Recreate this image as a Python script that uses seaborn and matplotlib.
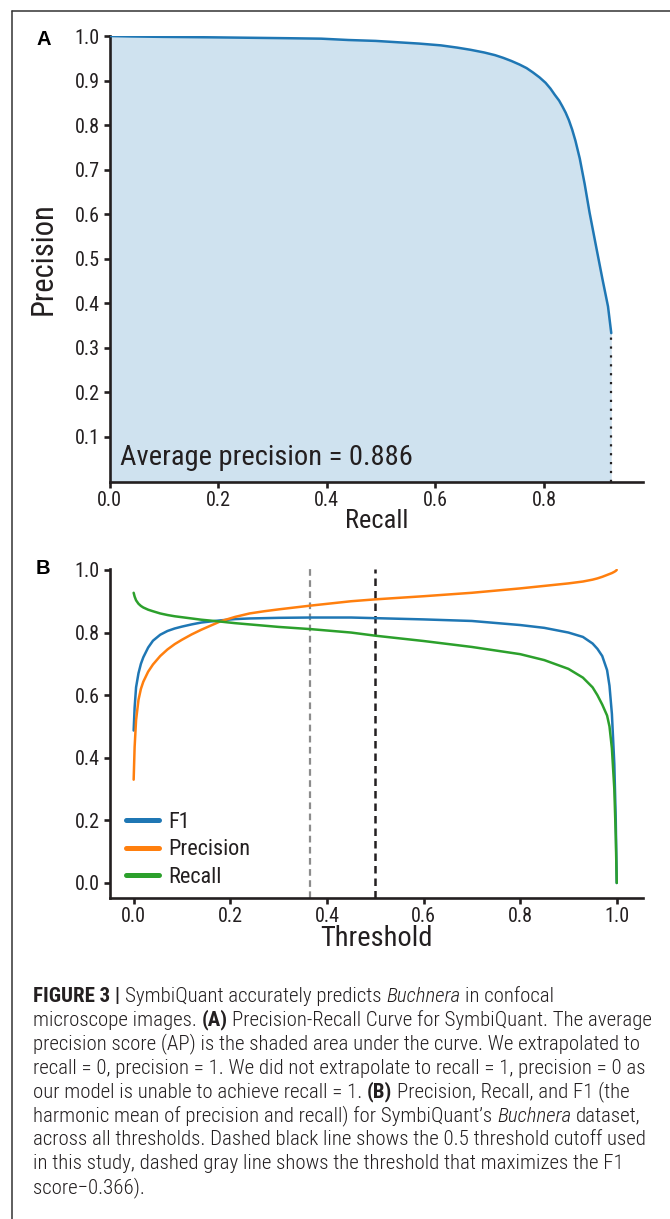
import matplotlib
matplotlib.use('Agg')
import matplotlib.pyplot as plt
from matplotlib import font_manager
from matplotlib.lines import Line2D
import seaborn as sns
import pandas as pd

# --- panel A: precision-recall curve
pr_recall = [0.0, 0.04, 0.10, 0.19, 0.26, 0.33, 0.39, 0.44, 0.49, 0.53, 0.57, 0.61, 0.64,
             0.665, 0.69, 0.71, 0.725, 0.74, 0.755, 0.768, 0.78, 0.792, 0.803, 0.812, 0.82,
             0.828, 0.834, 0.84, 0.846, 0.852, 0.858, 0.866, 0.875, 0.884, 0.896, 0.908,
             0.918, 0.924]
pr_precision = [1.0, 0.999, 0.998, 0.997, 0.996, 0.995, 0.994, 0.991, 0.989, 0.986, 0.983,
                0.979, 0.974, 0.969, 0.963, 0.957, 0.951, 0.944, 0.936, 0.928, 0.918, 0.907,
                0.895, 0.882, 0.868, 0.855, 0.842, 0.828, 0.811, 0.79, 0.765, 0.725, 0.668,
                0.604, 0.528, 0.453, 0.393, 0.333]
avg_precision = 0.886
pr_xticks = [0.0, 0.2, 0.4, 0.6, 0.8]
pr_yticks = [0.1, 0.2, 0.3, 0.4, 0.5, 0.6, 0.7, 0.8, 0.9, 1.0]

# --- panel B: metrics vs threshold
thresholds = [0.0, 0.002, 0.005, 0.01, 0.015, 0.02, 0.03, 0.04, 0.055, 0.07, 0.085, 0.1,
              0.12, 0.14, 0.18, 0.21, 0.24, 0.27, 0.3, 0.366, 0.45, 0.5, 0.6, 0.7, 0.8, 0.85,
              0.9, 0.93, 0.95, 0.96, 0.97, 0.98, 0.985, 0.99, 0.995, 0.998, 1.0]
f1_vals = [0.487, 0.56, 0.625, 0.67, 0.70, 0.721, 0.752, 0.774, 0.793, 0.805, 0.813, 0.819,
           0.826, 0.832, 0.839, 0.843, 0.845, 0.846, 0.847, 0.848, 0.848, 0.846, 0.842, 0.837,
           0.824, 0.815, 0.800, 0.786, 0.765, 0.748, 0.725, 0.68, 0.63, 0.54, 0.38, 0.2, 0.0]
precision_vals = [0.33, 0.434, 0.52, 0.585, 0.62, 0.643, 0.675, 0.698, 0.725, 0.746, 0.763,
                  0.777, 0.794, 0.809, 0.836, 0.850, 0.861, 0.868, 0.874, 0.886, 0.900, 0.906,
                  0.916, 0.927, 0.941, 0.949, 0.957, 0.963, 0.969, 0.973, 0.978, 0.984, 0.987,
                  0.990, 0.994, 0.997, 1.0]
recall_vals = [0.927, 0.915, 0.903, 0.892, 0.885, 0.880, 0.873, 0.868, 0.861, 0.856, 0.852,
               0.849, 0.845, 0.841, 0.835, 0.830, 0.826, 0.822, 0.818, 0.811, 0.800, 0.790,
               0.773, 0.754, 0.731, 0.712, 0.684, 0.656, 0.625, 0.60, 0.57, 0.535, 0.50, 0.43,
               0.30, 0.15, 0.0]
metrics = ['F1', 'Precision', 'Recall']
metric_colors = ['#1f77b4', '#ff7f0e', '#2ca02c']
best_threshold = 0.366
cutoff_threshold = 0.5
thr_ticks = [0.0, 0.2, 0.4, 0.6, 0.8, 1.0]
thr_yticks = [0.0, 0.2, 0.4, 0.6, 0.8, 1.0]

caption_lines = [
    [('FIGURE 3 | ', 'b'), ('SymbiQuant accurately predicts ', 'n'), ('Buchnera', 'i'), (' in confocal', 'n')],
    [('microscope images. ', 'n'), ('(A)', 'b'), (' Precision-Recall Curve for SymbiQuant. The average', 'n')],
    [('precision score (AP) is the shaded area under the curve. We extrapolated to', 'n')],
    [('recall = 0, precision = 1. We did not extrapolate to recall = 1, precision = 0 as', 'n')],
    [('our model is unable to achieve recall = 1. ', 'n'), ('(B)', 'b'), (' Precision, Recall, and F1 (the', 'n')],
    [('harmonic mean of precision and recall) for SymbiQuant\u2019s ', 'n'), ('Buchnera', 'i'), (' dataset,', 'n')],
    [('across all thresholds. Dashed black line shows the 0.5 threshold cutoff used', 'n')],
    [('in this study, dashed gray line shows the threshold that maximizes the F1', 'n')],
    [('score\u22120.366).', 'n')],
]

sns.set_theme(style='ticks')
names = {f.name for f in font_manager.fontManager.ttflist}
narrow = next((n for n in ['Liberation Sans Narrow', 'Roboto Condensed', 'Open Sans Condensed',
                           'Arial Narrow'] if n in names), 'Open Sans')
plt.rcParams['font.family'] = [narrow, 'DejaVu Sans']
plt.rcParams['font.stretch'] = 'condensed'
INK = '#231f20'

W, H = 670, 1219
fig = plt.figure(figsize=(W / 100, H / 100), dpi=100)


def px_axes(left, top, right, bottom):
    return fig.add_axes([left / W, 1 - bottom / H, (right - left) / W, (bottom - top) / H])


def style_axes(ax):
    sns.despine(ax=ax)
    for side in ['left', 'bottom']:
        ax.spines[side].set_linewidth(1.9)
        ax.spines[side].set_color(INK)
    ax.tick_params(length=4, width=1.9, color=INK, labelcolor=INK, labelsize=14.5, pad=3)
    ax.set_facecolor('white')


# ---------------- panel A
axA = px_axes(109.5, 36, 643.3, 481.5)
df_pr = pd.DataFrame({'Recall': pr_recall, 'Precision': pr_precision})
axA.fill_between(df_pr['Recall'], df_pr['Precision'], 0, color='#cfe2ef', lw=0, zorder=1)
sns.lineplot(data=df_pr, x='Recall', y='Precision', ax=axA, color='#1f77b4', lw=1.8,
             sort=False, estimator=None, zorder=3)
axA.vlines(pr_recall[-1], 0, pr_precision[-1], colors=INK, linestyles=(0, (1, 3)), lw=1.6, zorder=2)
axA.set_xlim(0, 0.983)
axA.set_ylim(0, 1.0)
axA.set_xticks(pr_xticks, [f'{v:.1f}' for v in pr_xticks])
axA.set_yticks(pr_yticks, [f'{v:.1f}' for v in pr_yticks])
style_axes(axA)
axA.set_xlabel('Recall', fontsize=19, color=INK, va='center')
axA.set_ylabel('Precision', fontsize=22, color=INK, va='center')
axA.xaxis.set_label_coords(0.5, (481.5 - 521) / 445.5)
axA.yaxis.set_label_coords((43 - 109.5) / 533.8, 0.5)
axA.text(0.02, 0.037, f'Average precision = {avg_precision}', transform=axA.transAxes,
         fontsize=20.5, color=INK, ha='left', va='baseline')

# ---------------- panel B
axB = px_axes(109.5, 569, 643.3, 897.7)
n = len(thresholds)
df_thr = pd.DataFrame({
    'Threshold': thresholds * 3,
    'value': f1_vals + precision_vals + recall_vals,
    'metric': [m for m in metrics for _ in range(n)],
})
axB.axvline(best_threshold, color='#8c8c8c', ls=(0, (3, 2)), lw=1.6, zorder=1)
axB.axvline(cutoff_threshold, color=INK, ls=(0, (3, 2)), lw=1.8, zorder=1)
sns.lineplot(data=df_thr, x='Threshold', y='value', hue='metric', hue_order=metrics,
             palette=metric_colors, lw=1.8, ax=axB, zorder=3)
axB.set_xlim(-0.05, 1.055)
axB.set_ylim(-0.047, 1.003)
axB.set_xticks(thr_ticks, [f'{v:.1f}' for v in thr_ticks])
axB.set_yticks(thr_yticks, [f'{v:.1f}' for v in thr_yticks])
style_axes(axB)
axB.set_ylabel('')
axB.set_xlabel('Threshold', fontsize=20.5, color=INK, va='center')
axB.xaxis.set_label_coords(0.5, (897.7 - 939) / 328.7)
leg = axB.legend(loc='lower left', bbox_to_anchor=((126 - 109.5) / 533.8, (897.7 - 888) / 328.7),
                 frameon=False, fontsize=16, handlelength=1.5, handletextpad=0.4,
                 labelspacing=0.3, borderpad=0, borderaxespad=0)
for h in leg.legend_handles:
    h.set_linewidth(3.6)
for t in leg.get_texts():
    t.set_color(INK)

# panel letters
bold_font = {'family': ['Liberation Sans', 'DejaVu Sans'], 'weight': 'bold', 'stretch': 'normal'}
fig.text(44 / W, 1 - 45 / H, 'A', fontsize=14.5, color='black', ha='center', va='baseline', **bold_font)
fig.text(43 / W, 1 - 574 / H, 'B', fontsize=14.5, color='black', ha='center', va='baseline', **bold_font)

# page frame (left and top rules)
fig.add_artist(Line2D([12 / W, 12 / W], [0, 1 - 11 / H], transform=fig.transFigure, color='#333333', lw=1.1))
fig.add_artist(Line2D([12 / W, 1], [1 - 11 / H, 1 - 11 / H], transform=fig.transFigure, color='#333333', lw=1.1))

# ---------------- caption, drawn segment by segment
renderer = fig.canvas.get_renderer()
STYLES = {'n': {'weight': 'light', 'style': 'normal'},
          'b': {'weight': 'bold', 'style': 'normal'},
          'i': {'weight': 'light', 'style': 'italic'}}


def text_width(s, st, size):
    t = fig.text(0, 0, s, fontsize=size, **STYLES[st])
    w = t.get_window_extent(renderer).width
    t.remove()
    return w


def draw_line(y_px, segs, size, x0=33, dry=False):
    x = x0
    sp = text_width('a a', 'n', size) - text_width('aa', 'n', size)
    for s, st in segs:
        lead = len(s) - len(s.lstrip(' '))
        trail = len(s) - len(s.rstrip(' '))
        x += lead * sp
        core = s.strip(' ')
        if not dry:
            fig.text(x / W, 1 - y_px / H, core, fontsize=size, color=INK, ha='left', va='baseline', **STYLES[st])
        x += text_width(core, st, size) + trail * sp
    return x - x0


cap_size = 12.0
cap_size *= 618 / draw_line(0, caption_lines[1], cap_size, dry=True)
for i, segs in enumerate(caption_lines):
    draw_line(1002 + i * 23.9, segs, cap_size)

fig.savefig('out.png', dpi=100, facecolor='white')
